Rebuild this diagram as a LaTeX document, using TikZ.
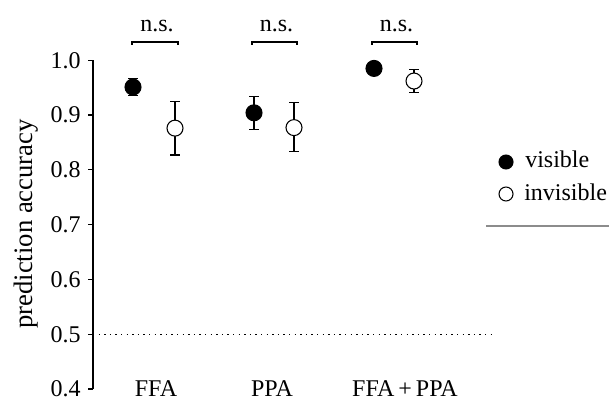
\documentclass[tikz,border=0pt]{standalone}
\usepackage{fontspec}
\setmainfont{Liberation Serif}
\begin{document}
\begin{tikzpicture}[x=0.75pt,y=-0.75pt,
  font=\fontsize{18}{21}\selectfont,
  declare function={acc(\v)=389-(\v-0.4)*548;},
  vis/.style={circle,draw,fill=black,minimum size=12pt,inner sep=0pt,line width=0.8pt},
  invis/.style={circle,draw,fill=white,minimum size=12pt,inner sep=0pt,line width=0.8pt},
  legvis/.style={vis,minimum size=10.5pt},
  leginvis/.style={invis,minimum size=10.5pt},
  errbar/.style={line width=0.8pt},
  ticklabel/.style={anchor=east,inner sep=0pt}]
  \useasboundingbox (0,0) rectangle (609,399);
  % axis and ticks
  \draw[line width=0.9pt] (93,{acc(1.0)}) -- (93,{acc(0.4)});
  \foreach \v/\n in {0.4/4,0.5/5,0.6/6,0.7/7,0.8/8,0.9/9,1.0/10}
  {
    \draw[line width=0.9pt] (88,{acc(\v)}) -- (93,{acc(\v)});
    \node[ticklabel] (t\n) at (81,{acc(\v)}) {\v};
  }
  \node[rotate=90,font=\fontsize{20}{24}\selectfont] (ylabel) at (26,224) {prediction accuracy};
  % chance level
  \coordinate (chanceL) at (93,{acc(0.5)});
  \coordinate (chanceR) at (493,{acc(0.5)});
  \draw[line width=0.8pt,dash pattern=on 1pt off 3.2pt] (chanceL) -- (chanceR);
  % error bars
  \foreach \x/\lo/\hi in {133/0.936/0.967,175/0.827/0.924,254/0.873/0.933,
                           294/0.833/0.922,414/0.941/0.983}
  {
    \draw[errbar] (\x,{acc(\lo)}) -- (\x,{acc(\hi)});
    \draw[errbar] ({\x-5},{acc(\lo)}) -- ({\x+5},{acc(\lo)});
    \draw[errbar] ({\x-5},{acc(\hi)}) -- ({\x+5},{acc(\hi)});
  }
  % means
  \node[vis] (ffaV) at (133,{acc(0.951)}) {};
  \node[invis] (ffaI) at (175,{acc(0.876)}) {};
  \node[vis] (ppaV) at (254,{acc(0.904)}) {};
  \node[invis] (ppaI) at (294,{acc(0.877)}) {};
  \node[vis] (bothV) at (374,{acc(0.985)}) {};
  \node[invis] (bothI) at (414,{acc(0.962)}) {};
  % categories
  \node[anchor=base] (ffa) at (156,396) {FFA};
  \node[anchor=base] (ppa) at (272,396) {PPA};
  \node[anchor=base] (both) at (405,396) {FFA\,+\,PPA};
  % n.s. brackets
  \foreach \a/\b/\m in {132/178/ffa,252/297/ppa,372/417/both}
  {
    \draw[line width=0.8pt] (\a,45) -- (\a,42) -- (\b,42) -- (\b,45);
    \node[anchor=base] (ns\m) at ({(\a+\b)/2+2},32) {n.s.};
  }
  % legend
  \node[legvis] (legV) at (506,162) {};
  \node[leginvis] (legI) at (506,194) {};
  \node[anchor=base west,inner sep=0pt] (legVtext) at (525,167) {visible};
  \node[anchor=base west,inner sep=0pt] (legItext) at (524,200) {invisible};
  \draw[black!45,line width=1.1pt] (486,226) -- (609,226);
\end{tikzpicture}
\end{document}
